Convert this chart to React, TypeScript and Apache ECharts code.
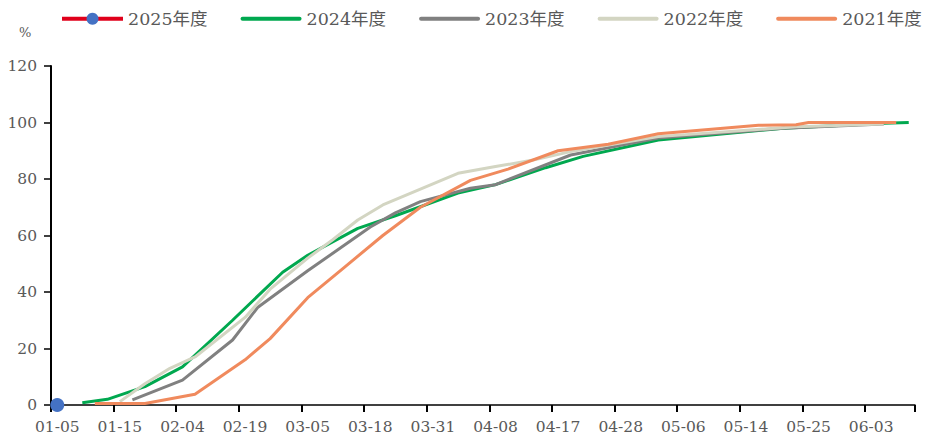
import React, { useEffect, useRef } from "react";
import * as echarts from "echarts";

const categories: string[] = [
  "01-05", "01-07", "01-09", "01-11", "01-13", "01-15", "01-18", "01-22", "01-26", "01-30",
  "02-04", "02-07", "02-10", "02-13", "02-16", "02-19", "02-22", "02-25", "02-27", "03-02",
  "03-05", "03-08", "03-10", "03-13", "03-15", "03-18", "03-20", "03-23", "03-26", "03-28",
  "03-31", "04-02", "04-03", "04-05", "04-06", "04-08", "04-10", "04-12", "04-14", "04-15",
  "04-17", "04-19", "04-21", "04-24", "04-26", "04-28", "04-30", "05-02", "05-03", "05-05",
  "05-06", "05-08", "05-10", "05-11", "05-13", "05-14", "05-16", "05-18", "05-20", "05-22",
  "05-25", "05-27", "05-28", "05-30", "06-01", "06-03", "06-05", "06-07", "06-10",
];

const seriesNames: string[] = ["2025年度", "2024年度", "2023年度", "2022年度", "2021年度"];

const s2025: [string, number][] = [["01-05", 0]];

const s2024: [string, number][] = [
  ["01-09", 0.8], ["01-13", 2], ["01-22", 6.5], ["02-04", 13.5], ["02-16", 30],
  ["02-27", 47], ["03-05", 53], ["03-15", 62.5], ["03-23", 67], ["04-03", 75],
  ["04-08", 78], ["04-15", 84], ["04-21", 88], ["05-03", 93.8], ["05-20", 98],
  ["06-05", 99.7], ["06-10", 100],
];

const s2023: [string, number][] = [
  ["01-18", 1.8], ["02-04", 8.8], ["02-16", 23], ["02-22", 34.5], ["03-05", 47.5],
  ["03-18", 63], ["03-23", 68], ["03-28", 72], ["04-05", 76.7], ["04-08", 78],
  ["04-19", 88.5], ["05-03", 94.5], ["05-20", 98], ["06-05", 99.5],
];

const s2022: [string, number][] = [
  ["01-15", 1.2], ["01-22", 7.5], ["01-30", 13], ["02-07", 17], ["02-19", 31],
  ["02-25", 41], ["03-05", 52], ["03-10", 58.5], ["03-15", 65.5],
  ["03-20", 70.8], ["04-03", 82], ["04-08", 84.4], ["04-14", 86.7], ["04-19", 89.7],
  ["05-03", 95], ["05-22", 98.5], ["06-05", 99.5],
];

const s2021: [string, number][] = [
  ["01-11", 0.5], ["01-22", 0.5], ["02-07", 3.8], ["02-19", 16], ["02-25", 23.5],
  ["03-05", 38], ["03-13", 49], ["03-20", 60], ["03-28", 70], ["04-05", 79.5],
  ["04-10", 83.5], ["04-17", 90], ["04-26", 92.3], ["05-03", 96], ["05-16", 99],
  ["05-22", 99.2], ["05-25", 100], ["06-07", 100],
];

const FONT = "'DejaVu Serif', 'Noto Sans CJK SC', serif";
const TXT = "#595959";
const LINE_ICON = "path://M2,0H59A2,2,0,0,1,59,4H2A2,2,0,0,1,2,0Z";

export default function App() {
  const ref = useRef<HTMLDivElement>(null);
  useEffect(() => {
    if (!ref.current) return;
    const chart = echarts.init(ref.current, undefined, { renderer: "svg" });
    const lineSeries = (name: string, data: [string, number][], color: string) => ({
      name,
      type: "line",
      data,
      symbol: "none",
      showSymbol: false,
      clip: false,
      itemStyle: { color },
      lineStyle: { color, width: 3 },
    });
    chart.setOption({
      animation: false,
      backgroundColor: "#ffffff",
      textStyle: { fontFamily: FONT },
      grid: { left: 51, right: 19, top: 66, bottom: 30, containLabel: false },
      legend: {
        left: 60,
        top: 10,
        padding: 0,
        itemWidth: 61,
        itemHeight: 15,
        itemGap: 33,
        textStyle: { color: TXT, fontSize: 17.5, fontFamily: FONT },
        data: seriesNames.map((n, i) =>
          i === 0
            ? { name: n, lineStyle: { width: 4, color: "#E0001B" } }
            : { name: n, icon: LINE_ICON }
        ),
      },
      graphic: [
        {
          type: "text",
          left: 19,
          top: 26,
          style: { text: "%", fill: TXT, fontSize: 13, fontFamily: FONT },
        },
      ],
      xAxis: {
        type: "category",
        data: categories,
        boundaryGap: true,
        axisLine: { show: true, lineStyle: { color: "#000", width: 1.5 } },
        axisTick: { show: true, interval: 4, length: 7, lineStyle: { color: "#000", width: 2 } },
        axisLabel: { interval: 4, color: TXT, fontSize: 15.5, margin: 14, fontFamily: FONT },
        splitLine: { show: false },
      },
      yAxis: {
        type: "value",
        min: 0,
        max: 120,
        interval: 20,
        axisLine: { show: true, lineStyle: { color: "#000", width: 2 } },
        axisTick: { show: true, length: 7, lineStyle: { color: "#000", width: 1.5 } },
        axisLabel: { color: TXT, fontSize: 15.5, margin: 14, fontFamily: FONT },
        splitLine: { show: false },
      },
      series: [
        {
          name: seriesNames[0],
          type: "line",
          data: s2025,
          symbol: "circle",
          symbolSize: 14,
          showSymbol: true,
          clip: false,
          z: 10,
          itemStyle: { color: "#4472C4" },
          lineStyle: { color: "#E0001B", width: 4 },
        },
        lineSeries(seriesNames[1], s2024, "#00A84F"),
        lineSeries(seriesNames[2], s2023, "#808080"),
        lineSeries(seriesNames[3], s2022, "#D3D5C2"),
        lineSeries(seriesNames[4], s2021, "#F08A5D"),
      ],
    });
    return () => chart.dispose();
  }, []);
  return (
    <div
      ref={ref}
      style={{ position: "fixed", left: 0, top: 0, width: 934, height: 435, background: "#fff" }}
    />
  );
}
